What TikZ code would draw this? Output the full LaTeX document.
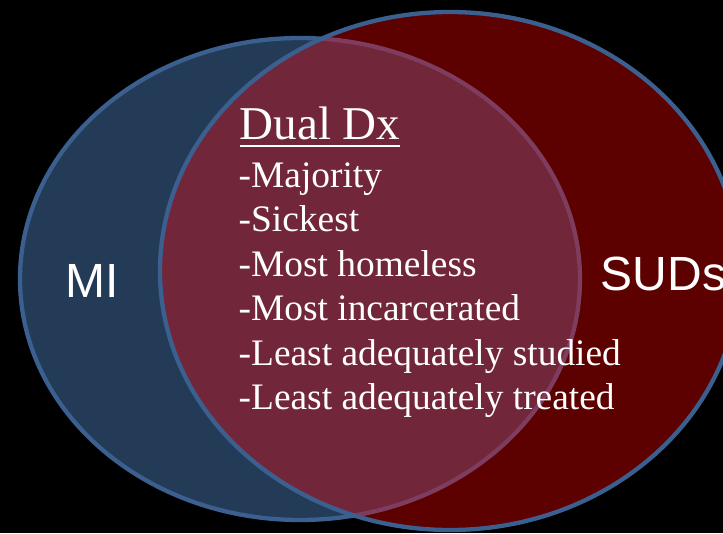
\documentclass[tikz,border=0pt]{standalone}
\usepackage{fontspec}
\setmainfont{Liberation Serif}
\newfontfamily\arialfont{Liberation Sans}
\definecolor{bluefill}{HTML}{243B57}
\definecolor{blueline}{HTML}{3B608F}
\definecolor{redfill}{HTML}{5C0000}
\definecolor{overlapfill}{HTML}{722639}
\definecolor{faintline}{HTML}{7E3C5E}
\tikzset{
  ring/.style={line width=4.3pt},
  itemtext/.style={anchor=base west, inner sep=0pt, text=white, font=\fontsize{37.4}{37.4}\selectfont},
  labeltext/.style={anchor=base west, inner sep=0pt, text=white, font=\arialfont\fontsize{48}{48}\selectfont}
}
\begin{document}
\begin{tikzpicture}[x=1pt,y=-1pt]
\useasboundingbox (0,0) rectangle (723,533);
\fill[black] (0,0) rectangle (723,533);
% MI ellipse
\fill[bluefill] (300,279) ellipse [x radius=280, y radius=241];
\draw[ring, blueline] (300,279) ellipse [x radius=280, y radius=241];
% SUDs ellipse
\fill[redfill] (450,271) ellipse [x radius=290, y radius=259];
\begin{scope}
  \clip (450,271) ellipse [x radius=290, y radius=259];
  \fill[overlapfill] (300,279) ellipse [x radius=280, y radius=241];
  \draw[ring, faintline] (300,279) ellipse [x radius=280, y radius=241];
\end{scope}
\draw[ring, blueline] (450,271) ellipse [x radius=290, y radius=259];
% labels
\node[labeltext] (mi) at (65.5,297) {MI};
\node[labeltext] (suds) at (600.5,290) {SUDs};
\node[itemtext, font=\fontsize{47}{47}\selectfont] (dual) at (239.5,139) {Dual Dx};
\draw[white, line width=2.2pt] ([yshift=-7pt]dual.base west) -- ([yshift=-7pt]dual.base east);
\node[itemtext] (i1) at (238.5,187) {-Majority};
\node[itemtext] (i2) at (238.5,231.5) {-Sickest};
\node[itemtext] (i3) at (238.5,276) {-Most homeless};
\node[itemtext] (i4) at (238.5,320.5) {-Most incarcerated};
\node[itemtext] (i5) at (238.5,365) {-Least adequately studied};
\node[itemtext] (i6) at (238.5,409.5) {-Least adequately treated};
\end{tikzpicture}
\end{document}
